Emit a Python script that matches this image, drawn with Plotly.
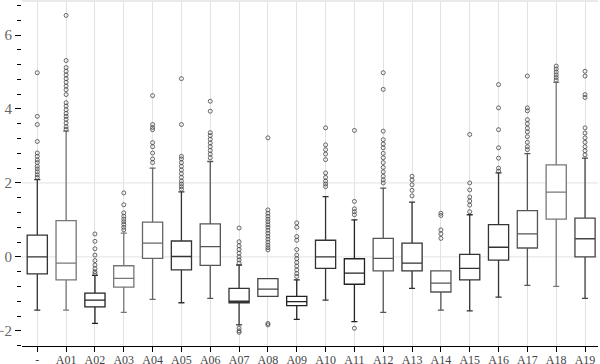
import plotly.graph_objects as go

# categories and box statistics
cats = ['-', 'A01', 'A02', 'A03', 'A04', 'A05', 'A06', 'A07', 'A08', 'A09',
        'A10', 'A11', 'A12', 'A13', 'A14', 'A15', 'A16', 'A17', 'A18', 'A19']
q3 = [0.59, 0.98, -0.98, -0.24, 0.94, 0.43, 0.89, -0.85, -0.59, -1.07,
      0.45, -0.05, 0.50, 0.37, -0.38, 0.07, 0.87, 1.25, 2.49, 1.05]
med = [0.00, -0.17, -1.17, -0.58, 0.37, 0.01, 0.28, -1.20, -0.87, -1.21,
       0.00, -0.44, -0.04, -0.17, -0.71, -0.31, 0.26, 0.62, 1.75, 0.49]
q1 = [-0.46, -0.62, -1.35, -0.82, -0.04, -0.35, -0.23, -1.24, -1.07, -1.32,
      -0.31, -0.74, -0.38, -0.38, -0.95, -0.62, -0.09, 0.24, 1.02, 0.00]
lo = [-1.44, -1.44, -1.80, -1.50, -1.15, -1.24, -1.12, -1.84, -1.07, -1.69,
      -1.17, -1.75, -1.50, -0.85, -1.44, -1.46, -1.09, -0.77, -0.80, -1.12]
hi = [2.09, 3.40, -0.50, 0.64, 2.40, 1.76, 2.58, -0.22, -0.59, -0.62,
      1.63, 1.00, 1.86, 1.48, -0.38, 1.14, 2.27, 2.79, 4.72, 2.67]
outliers = [
    [4.98, 3.80, 3.58, 3.12, 2.81, 2.72, 2.62, 2.55, 2.45, 2.38, 2.30, 2.22, 2.15],
    [6.53, 5.31, 5.12, 5.02, 4.92, 4.82, 4.72, 4.62, 4.52, 4.39, 4.17, 4.08, 3.98,
     3.88, 3.80, 3.72, 3.62, 3.52, 3.45],
    [0.62, 0.42, 0.22, 0.05, -0.10, -0.22, -0.32, -0.40, -0.45],
    [1.73, 1.41, 1.19, 1.10, 1.02, 0.95, 0.88, 0.80, 0.73],
    [4.36, 3.58, 3.50, 3.44, 3.09, 2.98, 2.81, 2.65, 2.55],
    [4.82, 3.58, 2.72, 2.65, 2.55, 2.45, 2.35, 2.25, 2.15, 2.05, 1.97, 1.90, 1.83],
    [4.21, 3.94, 3.36, 3.28, 3.18, 3.08, 2.98, 2.88, 2.78, 2.68],
    [0.78, 0.41, 0.30, 0.20, 0.10, 0.00, -0.08, -0.17, -1.93, -2.00, -2.04],
    [3.22, 1.27, 1.18, 1.10, 1.02, 0.95, 0.87, 0.80, 0.72, 0.64, 0.56, 0.48, 0.40,
     0.32, 0.25, 0.19, -1.80, -1.84],
    [0.92, 0.80, 0.55, 0.45, 0.20, 0.05, -0.05, -0.15, -0.25, -0.35, -0.45, -0.53],
    [3.49, 3.03, 2.90, 2.78, 2.63, 2.27, 2.15, 2.05, 1.97, 1.90],
    [3.42, 1.50, 1.30, 1.22, 1.14, -1.93],
    [4.98, 4.53, 3.40, 3.17, 3.05, 2.95, 2.80, 2.68, 2.55, 2.42, 2.30, 2.18, 2.08, 2.00],
    [2.18, 2.08, 1.95, 1.80, 1.65],
    [1.18, 1.12, 0.73, 0.62, 0.50],
    [3.31, 2.00, 1.81, 1.62, 1.51, 1.40, 1.22],
    [4.66, 4.03, 3.44, 2.95, 2.67, 2.40, 2.32],
    [4.89, 4.03, 3.95, 3.71, 3.60, 3.48, 3.38, 3.25, 3.10, 2.98, 2.90],
    [5.16, 5.08, 5.00, 4.92, 4.85, 4.78],
    [5.02, 4.89, 4.39, 4.31, 3.49, 3.35, 3.22, 3.10, 2.98, 2.87, 2.76],
]
line_colors = ['#333', '#777', '#222', '#777', '#666', '#333', '#555', '#333', '#444', '#222',
               '#333', '#222', '#555', '#333', '#555', '#333', '#333', '#555', '#777', '#444']

fig = go.Figure()

for i, c in enumerate(cats):
    fig.add_trace(go.Box(
        x=[c], q1=[q1[i]], median=[med[i]], q3=[q3[i]],
        lowerfence=[lo[i]], upperfence=[hi[i]],
        width=0.7, whiskerwidth=0.3,
        fillcolor='white',
        line=dict(color=line_colors[i], width=1.3),
        showlegend=False, hoverinfo='skip'
    ))
    fig.add_trace(go.Scatter(
        x=[c] * len(outliers[i]), y=outliers[i],
        mode='markers',
        marker=dict(symbol='circle-open', size=4, color='#444', line=dict(width=0.8)),
        showlegend=False, hoverinfo='skip'
    ))

# horizontal reference lines and top border
for yv in [0, 2]:
    fig.add_hline(y=yv, line=dict(color='#e2e2e2', width=1), layer='below')
fig.add_shape(type='line', xref='paper', yref='paper', x0=0, x1=1, y0=1, y1=1,
              line=dict(color='#e2e2e2', width=1.5), layer='below')

fig.update_layout(
    width=600, height=364,
    margin=dict(l=22, r=2, t=1, b=18),
    plot_bgcolor='white', paper_bgcolor='white',
    boxmode='overlay',
    font=dict(family='Liberation Serif', color='#555'),
    xaxis=dict(
        type='category', range=[-0.53, 19.45], automargin=False,
        showgrid=True, gridcolor='#e2e2e2', gridwidth=1.3,
        showline=True, linecolor='black', linewidth=1.3,
        ticks='outside', ticklen=5, tickcolor='black', tickwidth=1.3,
        ticklabelstandoff=-3,
        tickfont=dict(size=12, color='#444'),
    ),
    yaxis=dict(
        range=[-2.41, 6.92], automargin=False,
        tickvals=[-2, 0, 2, 4, 6],
        showgrid=False, zeroline=False, showline=False,
        ticks='outside', ticklen=6, tickcolor='black',
        tickfont=dict(size=15, color='#666'),
        minor=dict(dtick=0.4, tick0=0, ticks='outside', ticklen=4, tickcolor='black', showgrid=False),
    ),
)

# drop the default 8px page margin so the figure sits at the window's corner
fig.write_html('out.html', config={'displayModeBar': False},
               post_script="document.body.style.margin='0';")
